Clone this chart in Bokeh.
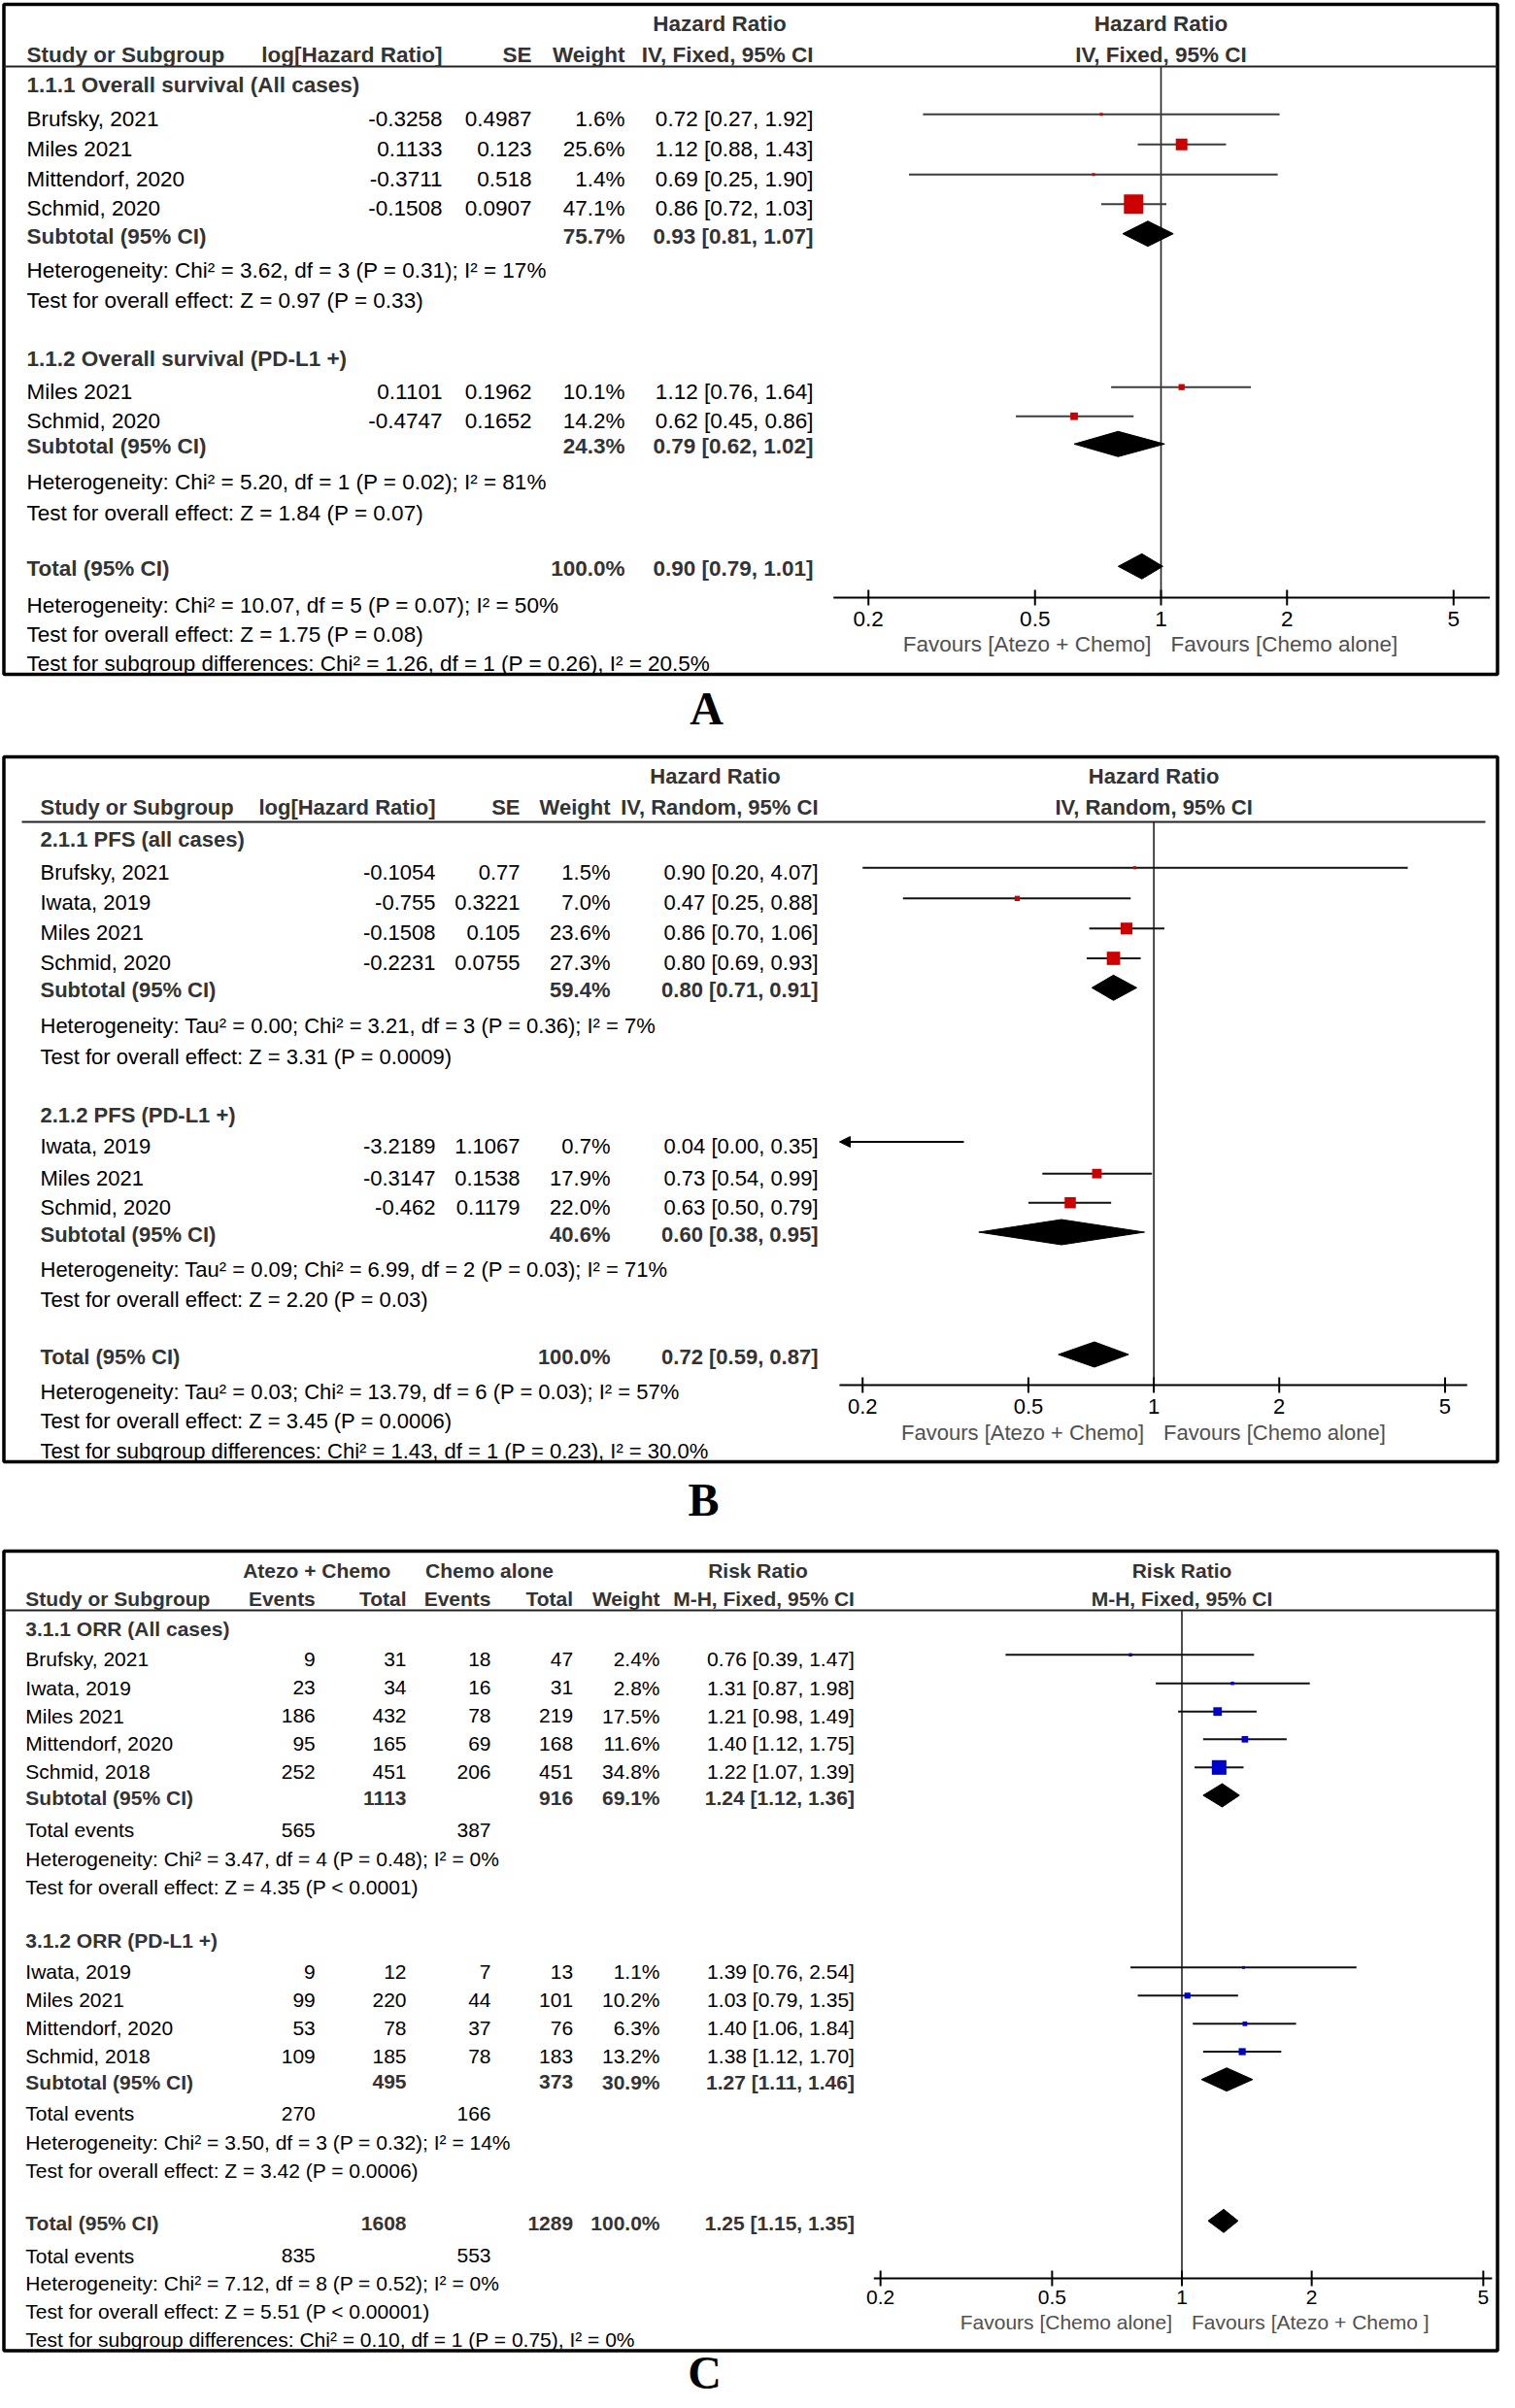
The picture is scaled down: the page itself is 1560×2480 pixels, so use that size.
import math
from bokeh.plotting import figure
from bokeh.models import Range1d, LogScale, ColumnDataSource, Arrow, NormalHead
from bokeh.core.properties import value
from bokeh.embed import file_html
from bokeh.resources import INLINE

SANS = "Liberation Sans"
SERIF = "Liberation Serif"

# ======================= DATA =======================
# ---- Panel A : Overall survival (Hazard Ratio, IV, Fixed) ----
A1_title = "1.1.1 Overall survival (All cases)"
A1_study = ["Brufsky, 2021", "Miles 2021", "Mittendorf, 2020", "Schmid, 2020"]
A1_loghr = [-0.3258, 0.1133, -0.3711, -0.1508]
A1_se = [0.4987, 0.123, 0.518, 0.0907]
A1_weight = [1.6, 25.6, 1.4, 47.1]
A1_hr = [0.72, 1.12, 0.69, 0.86]
A1_lo = [0.27, 0.88, 0.25, 0.72]
A1_hi = [1.92, 1.43, 1.90, 1.03]
A1_sub = [75.7, 0.93, 0.81, 1.07]
A1_het = "Heterogeneity: Chi\u00b2 = 3.62, df = 3 (P = 0.31); I\u00b2 = 17%"
A1_eff = "Test for overall effect: Z = 0.97 (P = 0.33)"

A2_title = "1.1.2 Overall survival (PD-L1 +)"
A2_study = ["Miles 2021", "Schmid, 2020"]
A2_loghr = [0.1101, -0.4747]
A2_se = [0.1962, 0.1652]
A2_weight = [10.1, 14.2]
A2_hr = [1.12, 0.62]
A2_lo = [0.76, 0.45]
A2_hi = [1.64, 0.86]
A2_sub = [24.3, 0.79, 0.62, 1.02]
A2_het = "Heterogeneity: Chi\u00b2 = 5.20, df = 1 (P = 0.02); I\u00b2 = 81%"
A2_eff = "Test for overall effect: Z = 1.84 (P = 0.07)"

A_total = [100.0, 0.90, 0.79, 1.01]
A_het = "Heterogeneity: Chi\u00b2 = 10.07, df = 5 (P = 0.07); I\u00b2 = 50%"
A_eff = "Test for overall effect: Z = 1.75 (P = 0.08)"
A_sgd = "Test for subgroup differences: Chi\u00b2 = 1.26, df = 1 (P = 0.26), I\u00b2 = 20.5%"

# ---- Panel B : PFS (Hazard Ratio, IV, Random) ----
B1_title = "2.1.1 PFS (all cases)"
B1_study = ["Brufsky, 2021", "Iwata, 2019", "Miles 2021", "Schmid, 2020"]
B1_loghr = [-0.1054, -0.755, -0.1508, -0.2231]
B1_se = [0.77, 0.3221, 0.105, 0.0755]
B1_weight = [1.5, 7.0, 23.6, 27.3]
B1_hr = [0.90, 0.47, 0.86, 0.80]
B1_lo = [0.20, 0.25, 0.70, 0.69]
B1_hi = [4.07, 0.88, 1.06, 0.93]
B1_sub = [59.4, 0.80, 0.71, 0.91]
B1_het = "Heterogeneity: Tau\u00b2 = 0.00; Chi\u00b2 = 3.21, df = 3 (P = 0.36); I\u00b2 = 7%"
B1_eff = "Test for overall effect: Z = 3.31 (P = 0.0009)"

B2_title = "2.1.2 PFS (PD-L1 +)"
B2_study = ["Iwata, 2019", "Miles 2021", "Schmid, 2020"]
B2_loghr = [-3.2189, -0.3147, -0.462]
B2_se = [1.1067, 0.1538, 0.1179]
B2_weight = [0.7, 17.9, 22.0]
B2_hr = [0.04, 0.73, 0.63]
B2_lo = [0.00, 0.54, 0.50]
B2_hi = [0.35, 0.99, 0.79]
B2_sub = [40.6, 0.60, 0.38, 0.95]
B2_het = "Heterogeneity: Tau\u00b2 = 0.09; Chi\u00b2 = 6.99, df = 2 (P = 0.03); I\u00b2 = 71%"
B2_eff = "Test for overall effect: Z = 2.20 (P = 0.03)"

B_total = [100.0, 0.72, 0.59, 0.87]
B_het = "Heterogeneity: Tau\u00b2 = 0.03; Chi\u00b2 = 13.79, df = 6 (P = 0.03); I\u00b2 = 57%"
B_eff = "Test for overall effect: Z = 3.45 (P = 0.0006)"
B_sgd = "Test for subgroup differences: Chi\u00b2 = 1.43, df = 1 (P = 0.23), I\u00b2 = 30.0%"

# ---- Panel C : ORR (Risk Ratio, M-H, Fixed) ----
C1_title = "3.1.1 ORR (All cases)"
C1_study = ["Brufsky, 2021", "Iwata, 2019", "Miles 2021", "Mittendorf, 2020", "Schmid, 2018"]
C1_ev1 = [9, 23, 186, 95, 252]
C1_n1 = [31, 34, 432, 165, 451]
C1_ev2 = [18, 16, 78, 69, 206]
C1_n2 = [47, 31, 219, 168, 451]
C1_weight = [2.4, 2.8, 17.5, 11.6, 34.8]
C1_rr = [0.76, 1.31, 1.21, 1.40, 1.22]
C1_lo = [0.39, 0.87, 0.98, 1.12, 1.07]
C1_hi = [1.47, 1.98, 1.49, 1.75, 1.39]
C1_sub = [1113, 916, 69.1, 1.24, 1.12, 1.36]
C1_events = [565, 387]
C1_het = "Heterogeneity: Chi\u00b2 = 3.47, df = 4 (P = 0.48); I\u00b2 = 0%"
C1_eff = "Test for overall effect: Z = 4.35 (P < 0.0001)"

C2_title = "3.1.2 ORR (PD-L1 +)"
C2_study = ["Iwata, 2019", "Miles 2021", "Mittendorf, 2020", "Schmid, 2018"]
C2_ev1 = [9, 99, 53, 109]
C2_n1 = [12, 220, 78, 185]
C2_ev2 = [7, 44, 37, 78]
C2_n2 = [13, 101, 76, 183]
C2_weight = [1.1, 10.2, 6.3, 13.2]
C2_rr = [1.39, 1.03, 1.40, 1.38]
C2_lo = [0.76, 0.79, 1.06, 1.12]
C2_hi = [2.54, 1.35, 1.84, 1.70]
C2_sub = [495, 373, 30.9, 1.27, 1.11, 1.46]
C2_events = [270, 166]
C2_het = "Heterogeneity: Chi\u00b2 = 3.50, df = 3 (P = 0.32); I\u00b2 = 14%"
C2_eff = "Test for overall effect: Z = 3.42 (P = 0.0006)"

C_total = [1608, 1289, 100.0, 1.25, 1.15, 1.35]
C_events = [835, 553]
C_het = "Heterogeneity: Chi\u00b2 = 7.12, df = 8 (P = 0.52); I\u00b2 = 0%"
C_eff = "Test for overall effect: Z = 5.51 (P < 0.00001)"
C_sgd = "Test for subgroup differences: Chi\u00b2 = 0.10, df = 1 (P = 0.75), I\u00b2 = 0%"

TICKS = [0.2, 0.5, 1, 2, 5]
TICK_LABELS = ["0.2", "0.5", "1", "2", "5"]
PANEL_LETTERS = ["A", "B", "C"]

# ======================= LAYOUT =======================
W, H = 1544, 2472
PX0, PY0 = 0, 0
HDR = "#333333"
FAV = "#505050"

LAY = {
    "A": dict(x_one=1195.0, ppd=431.0, ax_lo=0.165, ax_hi=6.1, fs=22.5, hr_x=740.5,
              box=(3.5, 1541.5, 4.0, 694.0), hline=(3.5, 1541.5, 68.0),
              hdr=(23.0, 55.0), axis_y=615.0, tick_y=636.0, fav_y=662.0,
              ci_color="#3c3c3c", sq_color="#cc0000", k=0.37, dia_h=13.0),
    "B": dict(x_one=1187.6, ppd=429.0, ax_lo=0.176, ax_hi=5.65, fs=22.0, hr_x=736.0,
              box=(3.5, 1541.5, 779.0, 1505.0), hline=(22.0, 1529.0, 846.0),
              hdr=(798.0, 830.0), axis_y=1426.0, tick_y=1447.0, fav_y=1474.0,
              ci_color="#111111", sq_color="#cc0000", k=0.41, dia_h=13.0),
    "C": dict(x_one=1216.5, ppd=444.0, ax_lo=0.193, ax_hi=5.24, fs=21.0, hr_x=780.0,
              box=(3.5, 1541.5, 1597.0, 2420.5), hline=(3.5, 1541.5, 1658.0),
              hdr=(1616.0, 1645.0), axis_y=2346.0, tick_y=2364.0, fav_y=2390.0,
              ci_color="#111111", sq_color="#0000cc", k=0.36, dia_h=12.0),
}
LETTER_POS = [(727, 729), (724, 1544), (725, 2443)]

p = figure(width=W, height=H, x_range=Range1d(PX0, PX0 + W), y_range=Range1d(PY0 + H, PY0),
           x_axis_location=None, y_axis_location=None, toolbar_location=None,
           output_backend="svg", min_border=0, outline_line_color=None,
           background_fill_color="white", border_fill_color="white")
p.grid.visible = False

xr, xs = {}, {}
for n, L in LAY.items():
    xr[n] = Range1d(10 ** ((PX0 - L["x_one"]) / L["ppd"]), 10 ** ((PX0 + W - L["x_one"]) / L["ppd"]))
    xs[n] = LogScale()
p.extra_x_ranges = xr
p.extra_x_scales = xs

# ---------- text accumulator ----------
texts = {}


def T(x, y, s, align, size, bold=False, color="#000000", font=SANS, rng=None, xoff=0):
    key = (align, size, bold, color, font, rng, xoff)
    d = texts.setdefault(key, {"x": [], "y": [], "text": []})
    d["x"].append(x)
    d["y"].append(y + 1)
    d["text"].append(s)


def ci(e, lo, hi):
    return f"{e:.2f} [{lo:.2f}, {hi:.2f}]"


FOR = {n: dict(sx0=[], sx1=[], sy=[], qx=[], qy=[], qs=[], dxs=[], dys=[], arrows=[]) for n in LAY}


def fstudy(n, y, w, est, lo, hi):
    L, F = LAY[n], FOR[n]
    yy = y - 3.5
    hi_c = min(hi, L["ax_hi"])
    if lo < L["ax_lo"]:
        F["arrows"].append((hi_c, L["ax_lo"], yy))
    else:
        F["sx0"].append(lo)
        F["sx1"].append(hi_c)
        F["sy"].append(yy)
    if L["ax_lo"] <= est <= L["ax_hi"]:
        F["qx"].append(est)
        F["qy"].append(yy)
        F["qs"].append(2.5 + L["k"] * w)


def fdiamond(n, y, est, lo, hi):
    L, F = LAY[n], FOR[n]
    yy = y - 1.5
    h = L["dia_h"]
    F["dxs"].append([lo, est, hi, est])
    F["dys"].append([yy, yy - h, yy, yy + h])


# ======================= PANEL A / B (HR tables) =======================
COLS_HR = {
    "A": dict(name=27.0, loghr=455.0, se=547.0, w=643.0, ci=837.0),
    "B": dict(name=41.0, loghr=448.0, se=535.0, w=628.0, ci=842.0),
}


def hr_header(n, method):
    L, C = LAY[n], COLS_HR[n]
    fs = L["fs"]
    y1, y2 = L["hdr"]
    T(L["hr_x"], y1, "Hazard Ratio", "center", fs, True, HDR)
    T(1, y1, "Hazard Ratio", "center", fs, True, HDR, rng=n)
    T(C["name"], y2, "Study or Subgroup", "left", fs, True, HDR)
    T(C["loghr"], y2, "log[Hazard Ratio]", "right", fs, True, HDR)
    T(C["se"], y2, "SE", "right", fs, True, HDR)
    T(C["w"], y2, "Weight", "right", fs, True, HDR)
    T(C["ci"], y2, method, "right", fs, True, HDR)
    T(1, y2, method, "center", fs, True, HDR, rng=n)


def hr_studies(n, ys, study, loghr, se, weight, hr, lo, hi):
    L, C = LAY[n], COLS_HR[n]
    fs = L["fs"]
    for i, y in enumerate(ys):
        T(C["name"], y, study[i], "left", fs)
        T(C["loghr"], y, str(loghr[i]), "right", fs)
        T(C["se"], y, str(se[i]), "right", fs)
        T(C["w"], y, f"{weight[i]:.1f}%", "right", fs)
        T(C["ci"], y, ci(hr[i], lo[i], hi[i]), "right", fs)
        fstudy(n, y, weight[i], hr[i], lo[i], hi[i])


def hr_pooled(n, y, label, sub):
    L, C = LAY[n], COLS_HR[n]
    fs = L["fs"]
    T(C["name"], y, label, "left", fs, True, HDR)
    T(C["w"], y, f"{sub[0]:.1f}%", "right", fs, True, HDR)
    T(C["ci"], y, ci(sub[1], sub[2], sub[3]), "right", fs, True, HDR)
    fdiamond(n, y, sub[1], sub[2], sub[3])


def plain(n, x, y, s):
    T(x, y, s, "left", LAY[n]["fs"])


# ---- Panel A ----
hr_header("A", "IV, Fixed, 95% CI")
cA = COLS_HR["A"]["name"]
T(cA, 86.0, A1_title, "left", 22.5, True, HDR)
hr_studies("A", [120.7, 151.7, 182.7, 213.3], A1_study, A1_loghr, A1_se, A1_weight, A1_hr, A1_lo, A1_hi)
hr_pooled("A", 241.7, "Subtotal (95% CI)", A1_sub)
plain("A", cA, 276.7, A1_het)
plain("A", cA, 308.3, A1_eff)
T(cA, 368.3, A2_title, "left", 22.5, True, HDR)
hr_studies("A", [401.7, 431.7], A2_study, A2_loghr, A2_se, A2_weight, A2_hr, A2_lo, A2_hi)
hr_pooled("A", 458.3, "Subtotal (95% CI)", A2_sub)
plain("A", cA, 495.0, A2_het)
plain("A", cA, 526.7, A2_eff)
hr_pooled("A", 584.3, "Total (95% CI)", A_total)
plain("A", cA, 621.7, A_het)
plain("A", cA, 651.7, A_eff)
plain("A", cA, 681.7, A_sgd)

# ---- Panel B ----
hr_header("B", "IV, Random, 95% CI")
cB = COLS_HR["B"]["name"]
T(cB, 863.3, B1_title, "left", 22.0, True, HDR)
hr_studies("B", [896.7, 928.3, 959.3, 990.0], B1_study, B1_loghr, B1_se, B1_weight, B1_hr, B1_lo, B1_hi)
hr_pooled("B", 1018.3, "Subtotal (95% CI)", B1_sub)
plain("B", cB, 1055.0, B1_het)
plain("B", cB, 1086.7, B1_eff)
T(cB, 1146.7, B2_title, "left", 22.0, True, HDR)
hr_studies("B", [1179.0, 1211.7, 1241.7], B2_study, B2_loghr, B2_se, B2_weight, B2_hr, B2_lo, B2_hi)
hr_pooled("B", 1270.0, "Subtotal (95% CI)", B2_sub)
plain("B", cB, 1306.0, B2_het)
plain("B", cB, 1336.7, B2_eff)
hr_pooled("B", 1396.0, "Total (95% CI)", B_total)
plain("B", cB, 1431.7, B_het)
plain("B", cB, 1461.7, B_eff)
plain("B", cB, 1492.7, B_sgd)

# ======================= PANEL C (RR table) =======================
CC = dict(name=25.8, ev1=324.3, n1=418.0, ev2=505.0, n2=589.6, w=679.0, ci=879.4)
fsC = LAY["C"]["fs"]
y1, y2 = LAY["C"]["hdr"]
T(325.8, y1, "Atezo + Chemo", "center", fsC, True, HDR)
T(503.5, y1, "Chemo alone", "center", fsC, True, HDR)
T(LAY["C"]["hr_x"], y1, "Risk Ratio", "center", fsC, True, HDR)
T(1, y1, "Risk Ratio", "center", fsC, True, HDR, rng="C")
T(CC["name"], y2, "Study or Subgroup", "left", fsC, True, HDR)
T(CC["ev1"], y2, "Events", "right", fsC, True, HDR)
T(CC["n1"], y2, "Total", "right", fsC, True, HDR)
T(CC["ev2"], y2, "Events", "right", fsC, True, HDR)
T(CC["n2"], y2, "Total", "right", fsC, True, HDR)
T(CC["w"], y2, "Weight", "right", fsC, True, HDR)
T(CC["ci"], y2, "M-H, Fixed, 95% CI", "right", fsC, True, HDR)
T(1, y2, "M-H, Fixed, 95% CI", "center", fsC, True, HDR, rng="C")


def rr_studies(ys, study, ev1, n1, ev2, n2, weight, rr, lo, hi):
    for i, y in enumerate(ys):
        T(CC["name"], y, study[i], "left", fsC)
        T(CC["ev1"], y, str(ev1[i]), "right", fsC)
        T(CC["n1"], y, str(n1[i]), "right", fsC)
        T(CC["ev2"], y, str(ev2[i]), "right", fsC)
        T(CC["n2"], y, str(n2[i]), "right", fsC)
        T(CC["w"], y, f"{weight[i]:.1f}%", "right", fsC)
        T(CC["ci"], y, ci(rr[i], lo[i], hi[i]), "right", fsC)
        fstudy("C", y, weight[i], rr[i], lo[i], hi[i])


def rr_pooled(y, label, sub):
    T(CC["name"], y, label, "left", fsC, True, HDR)
    T(CC["n1"], y, str(sub[0]), "right", fsC, True, HDR)
    T(CC["n2"], y, str(sub[1]), "right", fsC, True, HDR)
    T(CC["w"], y, f"{sub[2]:.1f}%", "right", fsC, True, HDR)
    T(CC["ci"], y, ci(sub[3], sub[4], sub[5]), "right", fsC, True, HDR)
    fdiamond("C", y, sub[3], sub[4], sub[5])


def rr_events(y, ev):
    T(CC["name"], y, "Total events", "left", fsC)
    T(CC["ev1"], y, str(ev[0]), "right", fsC)
    T(CC["ev2"], y, str(ev[1]), "right", fsC)


cC = CC["name"]
T(cC, 1676.0, C1_title, "left", fsC, True, HDR)
rr_studies([1707.3, 1736.7, 1765.7, 1794.3, 1823.3], C1_study, C1_ev1, C1_n1, C1_ev2, C1_n2,
           C1_weight, C1_rr, C1_lo, C1_hi)
rr_pooled(1850.0, "Subtotal (95% CI)", C1_sub)
rr_events(1883.3, C1_events)
plain("C", cC, 1912.7, C1_het)
plain("C", cC, 1941.7, C1_eff)
T(cC, 1996.5, C2_title, "left", fsC, True, HDR)
rr_studies([2029.3, 2058.3, 2087.3, 2116.0], C2_study, C2_ev1, C2_n1, C2_ev2, C2_n2,
           C2_weight, C2_rr, C2_lo, C2_hi)
rr_pooled(2142.7, "Subtotal (95% CI)", C2_sub)
rr_events(2175.0, C2_events)
plain("C", cC, 2205.0, C2_het)
plain("C", cC, 2234.3, C2_eff)
rr_pooled(2288.3, "Total (95% CI)", C_total)
rr_events(2321.7, C_events)
plain("C", cC, 2350.0, C_het)
plain("C", cC, 2379.0, C_eff)
plain("C", cC, 2408.3, C_sgd)

# ======================= FAVOURS labels & ticks =======================
FAVOURS = {
    "A": ("Favours [Atezo + Chemo]", "Favours [Chemo alone]"),
    "B": ("Favours [Atezo + Chemo]", "Favours [Chemo alone]"),
    "C": ("Favours [Chemo alone]", "Favours [Atezo + Chemo ]"),
}
for n, (left_lab, right_lab) in FAVOURS.items():
    L = LAY[n]
    T(1, L["fav_y"], left_lab, "right", L["fs"], False, FAV, rng=n, xoff=-10)
    T(1, L["fav_y"], right_lab, "left", L["fs"], False, FAV, rng=n, xoff=10)
    for t, lab in zip(TICKS, TICK_LABELS):
        T(t, L["tick_y"], lab, "center", L["fs"], False, "#000000", rng=n)

# ======================= DRAW =======================
for n, L in LAY.items():
    l, r, t, b = L["box"]
    p.quad(left=[l], right=[r], top=[t], bottom=[b], fill_color=None, line_color="black", line_width=3.5)
    x0, x1, yh = L["hline"]
    p.segment(x0=[x0], x1=[x1], y0=[yh], y1=[yh], line_color="#222222", line_width=2)

for n, L in LAY.items():
    F = FOR[n]
    p.segment(x0=[1], x1=[1], y0=[L["hline"][2]], y1=[L["axis_y"]], line_color="#222222",
              line_width=1.6, x_range_name=n)
    ay = L["axis_y"]
    p.segment(x0=[L["ax_lo"]], x1=[L["ax_hi"]], y0=[ay], y1=[ay], line_color="black",
              line_width=2, x_range_name=n)
    p.segment(x0=TICKS, x1=TICKS, y0=[ay - 8] * len(TICKS), y1=[ay + 8] * len(TICKS),
              line_color="black", line_width=2, x_range_name=n)
    p.segment(x0=F["sx0"], x1=F["sx1"], y0=F["sy"], y1=F["sy"], line_color=L["ci_color"],
              line_width=2, x_range_name=n)
    for (xs_, xe_, yy) in F["arrows"]:
        p.add_layout(Arrow(x_start=xs_, x_end=xe_, y_start=yy, y_end=yy, x_range_name=n,
                           line_color="black", line_width=2,
                           end=NormalHead(size=11, fill_color="black", line_color="black", line_width=1)))
    p.rect(x=F["qx"], y=F["qy"], width=F["qs"], height=F["qs"], width_units="screen",
           height_units="screen", fill_color=L["sq_color"], line_color=None, x_range_name=n)
    p.patches(xs=F["dxs"], ys=F["dys"], fill_color="black", line_color="black", line_width=1,
              x_range_name=n)

for (align, size, bold, color, font, rng, xoff), d in texts.items():
    kw = {} if rng is None else {"x_range_name": rng}
    p.text(x="x", y="y", text="text", source=ColumnDataSource(d), text_align=align,
           text_baseline="middle", text_font=value(font), text_font_size=f"{size}px",
           text_font_style="bold" if bold else "normal", text_color=color, x_offset=xoff, **kw)

# panel letters
p.text(x=[q[0] for q in LETTER_POS], y=[q[1] for q in LETTER_POS], text=PANEL_LETTERS,
       text_align="center", text_baseline="middle", text_font=value(SERIF),
       text_font_size="48px", text_font_style="bold", text_color="black")

open("out.html", "w").write(file_html(p, INLINE))
